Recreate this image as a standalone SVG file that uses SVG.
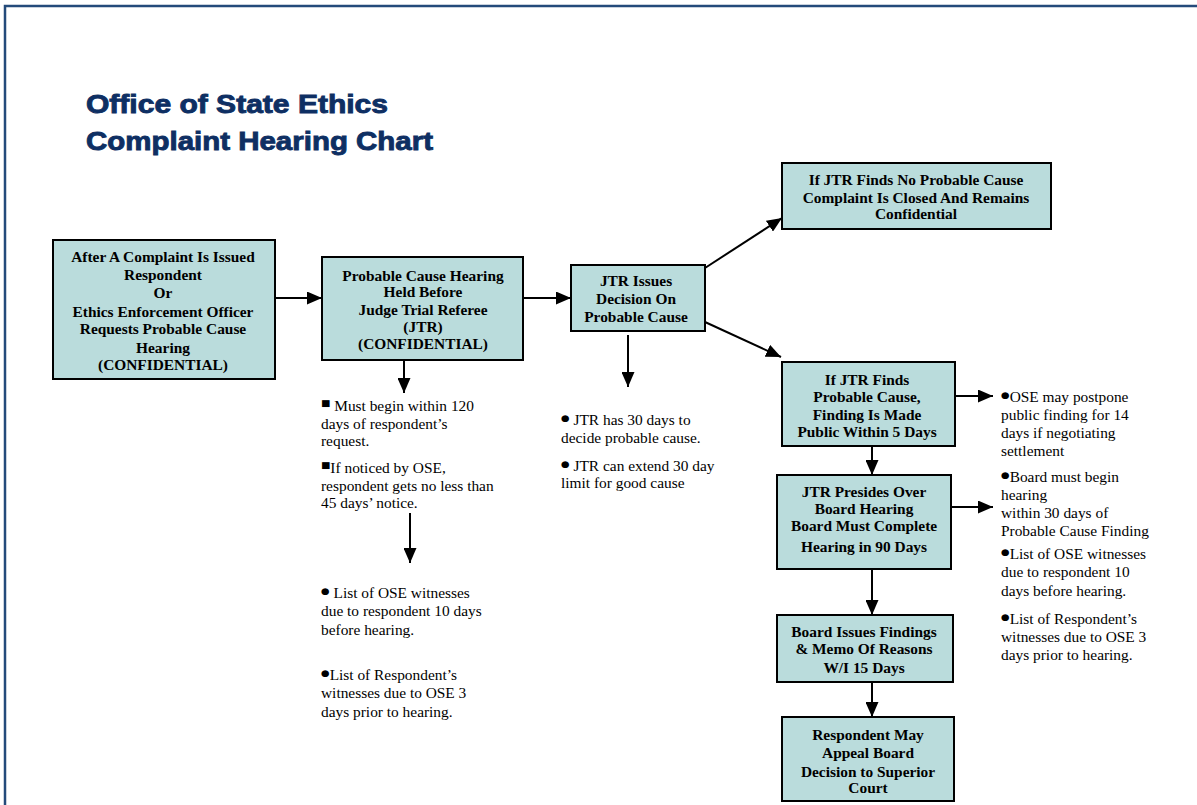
<svg xmlns="http://www.w3.org/2000/svg" width="1197" height="805" viewBox="0 0 1197 805">
<style>
.box{fill:#BADCDC;stroke:#000;stroke-width:2}
.b{font-family:"Liberation Serif","Times New Roman",serif;font-weight:bold;font-size:14px;text-anchor:middle;fill:#000}
.n{font-family:"Liberation Serif","Times New Roman",serif;font-size:14px;fill:#000}
.t{font-family:"Liberation Sans",Arial,sans-serif;font-weight:bold;font-size:26px;fill:#0E2F63;stroke:#0E2F63;stroke-width:0.9}
.bu{font-family:"DejaVu Sans",sans-serif;font-size:9px}
.c{stroke:#000;stroke-width:2;fill:none;marker-end:url(#ah)}
</style>
<defs>
<marker id="ah" markerUnits="userSpaceOnUse" markerWidth="15" markerHeight="13" refX="15" refY="6.5" orient="auto" viewBox="0 0 15 13">
<path d="M0,0 L15,6.5 L0,13 z" fill="#000"/>
</marker>
</defs>
<rect x="5" y="6" width="1300" height="900" fill="none" stroke="#244A7A" stroke-width="2.5"/>
<g id="title">
<text class="t"><tspan x="86" y="113" textLength="302" lengthAdjust="spacingAndGlyphs">Office of State Ethics</tspan><tspan x="86" y="150" textLength="347" lengthAdjust="spacingAndGlyphs">Complaint Hearing Chart</tspan></text>
</g>
<g id="connectors">
<line class="c" x1="275" y1="298" x2="322" y2="298"/>
<line class="c" x1="523" y1="298" x2="571" y2="298"/>
<line class="c" x1="705" y1="268" x2="782" y2="218"/>
<line class="c" x1="705" y1="322" x2="781" y2="357"/>
<line class="c" x1="404" y1="360" x2="404" y2="393"/>
<line class="c" x1="410" y1="513" x2="410" y2="563"/>
<line class="c" x1="628" y1="335" x2="628" y2="387"/>
<line class="c" x1="872" y1="446" x2="872" y2="475"/>
<line class="c" x1="872" y1="569" x2="872" y2="615"/>
<line class="c" x1="872" y1="682" x2="872" y2="717"/>
<line class="c" x1="955" y1="396" x2="993" y2="396"/>
<line class="c" x1="951" y1="507" x2="993" y2="507"/>
</g>
<g id="node1">
<rect class="box" x="53" y="240" width="222" height="139"/>
<text class="b" transform="translate(163,0) scale(1.1,1)"><tspan x="0" y="262">After A Complaint Is Issued</tspan><tspan x="0" y="280">Respondent</tspan><tspan x="0" y="298">Or</tspan><tspan x="0" y="317">Ethics Enforcement Officer</tspan><tspan x="0" y="334">Requests Probable Cause</tspan><tspan x="0" y="353">Hearing</tspan><tspan x="0" y="370">(CONFIDENTIAL)</tspan></text>
</g>
<g id="node2">
<rect class="box" x="322" y="257" width="201" height="103"/>
<text class="b" transform="translate(423,0) scale(1.1,1)"><tspan x="0" y="281">Probable Cause Hearing</tspan><tspan x="0" y="297">Held Before</tspan><tspan x="0" y="315">Judge Trial Referee</tspan><tspan x="0" y="332">(JTR)</tspan><tspan x="0" y="349">(CONFIDENTIAL)</tspan></text>
</g>
<g id="node3">
<rect class="box" x="571" y="265" width="134" height="66"/>
<text class="b" transform="translate(636,0) scale(1.1,1)"><tspan x="0" y="286">JTR Issues</tspan><tspan x="0" y="304">Decision On</tspan><tspan x="0" y="322">Probable Cause</tspan></text>
</g>
<g id="node4">
<rect class="box" x="782" y="163" width="269" height="66"/>
<text class="b" transform="translate(916,0) scale(1.1,1)"><tspan x="0" y="185">If JTR Finds No Probable Cause</tspan><tspan x="0" y="203">Complaint Is Closed And Remains</tspan><tspan x="0" y="219">Confidential</tspan></text>
</g>
<g id="node5">
<rect class="box" x="782" y="362" width="173" height="84"/>
<text class="b" transform="translate(867,0) scale(1.1,1)"><tspan x="0" y="385">If JTR Finds</tspan><tspan x="0" y="402">Probable Cause,</tspan><tspan x="0" y="420">Finding Is Made</tspan><tspan x="0" y="437">Public Within 5 Days</tspan></text>
</g>
<g id="node6">
<rect class="box" x="777" y="475" width="174" height="94"/>
<text class="b" transform="translate(864,0) scale(1.1,1)"><tspan x="0" y="497">JTR Presides Over</tspan><tspan x="0" y="514">Board Hearing</tspan><tspan x="0" y="531">Board Must Complete</tspan><tspan x="0" y="552">Hearing in 90 Days</tspan></text>
</g>
<g id="node7">
<rect class="box" x="777" y="615" width="176" height="67"/>
<text class="b" transform="translate(864,0) scale(1.1,1)"><tspan x="0" y="637">Board Issues Findings</tspan><tspan x="0" y="654">&amp; Memo Of Reasons</tspan><tspan x="0" y="673">W/I 15 Days</tspan></text>
</g>
<g id="node8">
<rect class="box" x="782" y="717" width="172" height="84"/>
<text class="b" transform="translate(868,0) scale(1.1,1)"><tspan x="0" y="740">Respondent May</tspan><tspan x="0" y="758">Appeal Board</tspan><tspan x="0" y="777">Decision to Superior</tspan><tspan x="0" y="793">Court</tspan></text>
</g>
<g id="notes-hearing">
<text class="n" transform="translate(321,0) scale(1.1,1)"><tspan x="0" y="411"><tspan class="bu" dy="-5">■</tspan><tspan dy="5">  Must begin within 120</tspan></tspan><tspan x="0" y="429">days of respondent’s</tspan><tspan x="0" y="446">request.</tspan><tspan x="0" y="473"><tspan class="bu" dy="-5">■</tspan><tspan dy="5">If noticed by OSE,</tspan></tspan><tspan x="0" y="491">respondent gets no less than</tspan><tspan x="0" y="508">45 days’ notice.</tspan><tspan x="0" y="598"><tspan class="bu" dy="-4">●</tspan><tspan dy="4"> List of OSE witnesses</tspan></tspan><tspan x="0" y="616">due to respondent 10 days</tspan><tspan x="0" y="635">before hearing.</tspan><tspan x="0" y="680"><tspan class="bu" dy="-4">●</tspan><tspan dy="4">List of Respondent’s</tspan></tspan><tspan x="0" y="698">witnesses due to OSE 3</tspan><tspan x="0" y="717">days prior to hearing.<tspan text-decoration="underline"> </tspan></tspan></text>
</g>
<g id="notes-decision">
<text class="n" transform="translate(561,0) scale(1.1,1)"><tspan x="0" y="425"><tspan class="bu" dy="-4">●</tspan><tspan dy="4"> JTR has 30 days to</tspan></tspan><tspan x="0" y="443">decide probable cause.</tspan><tspan x="0" y="471"><tspan class="bu" dy="-4">●</tspan><tspan dy="4"> JTR can extend 30 day</tspan></tspan><tspan x="0" y="488">limit for good cause</tspan></text>
</g>
<g id="notes-board">
<text class="n" transform="translate(1001,0) scale(1.1,1)"><tspan x="0" y="402"><tspan class="bu" dy="-4">●</tspan><tspan dy="4">OSE may postpone</tspan></tspan><tspan x="0" y="420">public finding for 14</tspan><tspan x="0" y="438">days if negotiating</tspan><tspan x="0" y="456">settlement</tspan><tspan x="0" y="482"><tspan class="bu" dy="-4">●</tspan><tspan dy="4">Board must begin</tspan></tspan><tspan x="0" y="500">hearing</tspan><tspan x="0" y="518">within 30 days of</tspan><tspan x="0" y="536">Probable Cause Finding</tspan><tspan x="0" y="559"><tspan class="bu" dy="-4">●</tspan><tspan dy="4">List of OSE witnesses</tspan></tspan><tspan x="0" y="577">due to respondent 10</tspan><tspan x="0" y="596">days before hearing.</tspan><tspan x="0" y="624"><tspan class="bu" dy="-4">●</tspan><tspan dy="4">List of Respondent’s</tspan></tspan><tspan x="0" y="642">witnesses due to OSE 3</tspan><tspan x="0" y="660">days prior to hearing.<tspan text-decoration="underline"> </tspan></tspan></text>
</g>
</svg>
